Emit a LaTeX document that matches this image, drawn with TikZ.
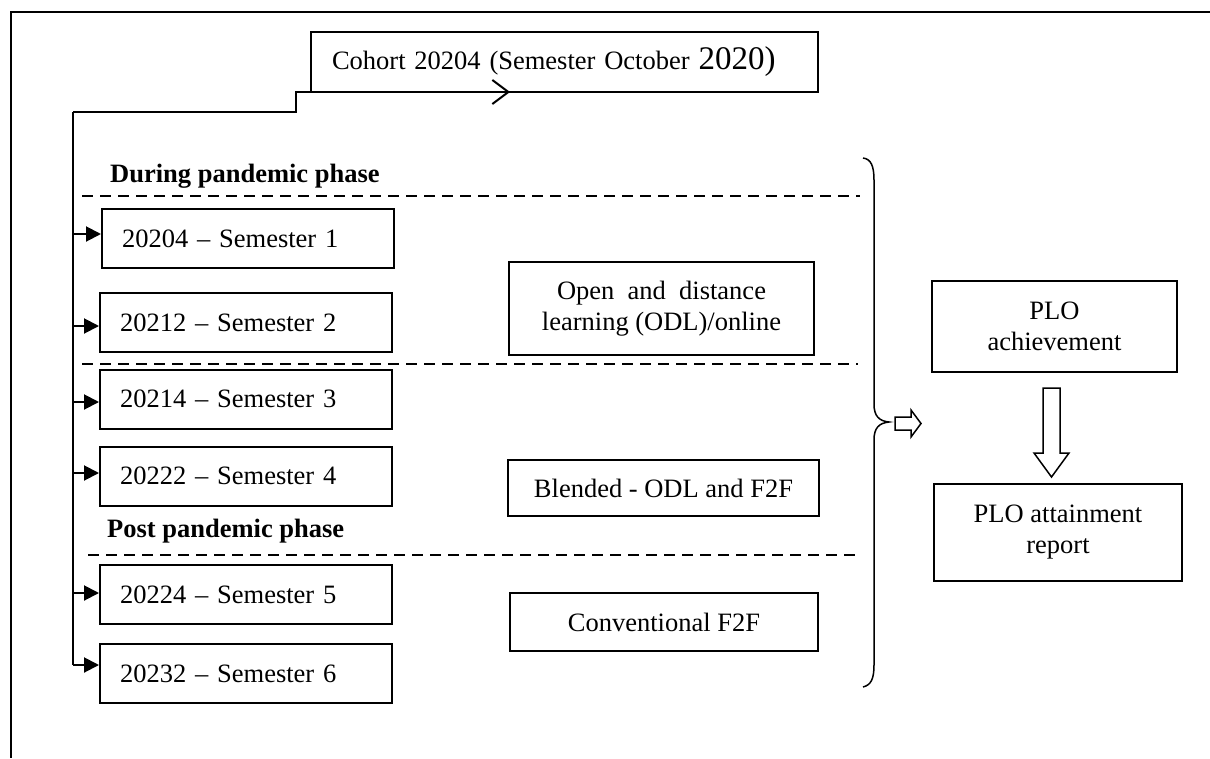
\documentclass[tikz,border=0pt]{standalone}
\usepackage{fontspec}
\setmainfont{Liberation Serif}
\usetikzlibrary{arrows.meta}
\newcommand{\mainsize}{\fontsize{26.5}{31}\selectfont}
\begin{document}
\begin{tikzpicture}[x=1pt,y=-1pt,
  every node/.style={font=\mainsize, inner sep=0pt},
  box/.style={draw, line width=2pt},
  sembox/.style={box, minimum width=292pt, minimum height=59pt, text width=252pt, inner xsep=20pt, align=left},
  midbox/.style={box, align=center},
  phase/.style={font=\mainsize\bfseries, anchor=base west},
  conn/.style={line width=2pt},
  semarrow/.style={line width=2pt, -{Triangle[length=15pt,width=15pt]}},
  dashline/.style={line width=2pt, dash pattern=on 11pt off 7pt},
  blockarrow/.style={line width=1.5pt, fill=white}
]
\useasboundingbox (0,0) rectangle (1210,758);

% page frame
\draw[line width=2pt] (1210,12) -- (11,12) -- (11,758);

% cohort box
\node[box, minimum width=507pt, minimum height=60pt, text width=465pt, inner xsep=21pt, align=left] (cohort) at (564.5,62) {Cohort 20204 (Semester October {\fontsize{33}{33}\selectfont 2020)}};

% phase labels and dashed separators
\node[phase] (during) at (110,182) {During pandemic phase};
\node[phase] (post) at (107,537) {Post pandemic phase};
\draw[dashline] (82,196) -- (860,196);
\draw[dashline] (82,364) -- (858,364);
\draw[dashline] (88,555) -- (862,555);

% semester boxes
\node[sembox] (s1) at (248,238.5) {20204 – Semester 1};
\node[sembox] (s2) at (246,322.5) {20212 – Semester 2};
\node[sembox] (s3) at (246,399) {20214 – Semester 3};
\node[sembox] (s4) at (246,476) {20222 – Semester 4};
\node[sembox] (s5) at (246,594.5) {20224 – Semester 5};
\node[sembox] (s6) at (246,673.5) {20232 – Semester 6};

% mode boxes
\node[midbox, minimum width=305pt, minimum height=93pt] (odl) at (661.5,308.5) {Open\hspace{0.5em}and\hspace{0.5em}distance\\learning (ODL)/online};
\node[midbox, minimum width=311pt, minimum height=56pt] (blend) at (663.5,488) {Blended - ODL and F2F};
\node[midbox, minimum width=308pt, minimum height=58pt] (conv) at (664,622) {Conventional F2F};

% PLO boxes
\node[midbox, minimum width=245pt, minimum height=91pt] (plo1) at (1054.5,326.5) {PLO\\achievement};
\node[midbox, minimum width=248pt, minimum height=97pt] (plo2) at (1058,532.5) {PLO attainment\\report};

% spine and connectors
\coordinate (sp) at (73,112);
\coordinate (a1) at (73,234);
\coordinate (a2) at (73,326);
\coordinate (a3) at (73,402);
\coordinate (a4) at (73,473);
\coordinate (a5) at (73,593);
\coordinate (a6) at (73,665);
\coordinate (stepA) at (296,112);
\coordinate (stepB) at (296,92);
\coordinate (tipC) at (510,92);
\draw[conn, -{Straight Barb[length=16pt,width=24pt,line width=2pt]}] (sp) -- (stepA) -- (stepB) -- (tipC);
\draw[conn] (sp) -- (a6);
\draw[semarrow] (a1) -- (a1 -| s1.west);
\draw[semarrow] (a2) -- (a2 -| s2.west);
\draw[semarrow] (a3) -- (a3 -| s3.west);
\draw[semarrow] (a4) -- (a4 -| s4.west);
\draw[semarrow] (a5) -- (a5 -| s5.west);
\draw[semarrow] (a6) -- (a6 -| s6.west);

% brace
\draw[line width=1.5pt] (863,158) .. controls (871,159) and (874,166) .. (874,180) -- (874,404)
  .. controls (874,416) and (879,421) .. (889,422)
  .. controls (879,423) and (874,428) .. (874,440) -- (874,665)
  .. controls (874,679) and (871,685) .. (863,687);

% small hollow right arrow
\draw[blockarrow] (895,417) -- (911,417) -- (911,410) -- (921,423.5) -- (911,437) -- (911,430) -- (895,430) -- cycle;

% big hollow down arrow
\draw[blockarrow] (1043,388) -- (1060,388) -- (1060,453) -- (1069,453) -- (1051.5,477) -- (1034,453) -- (1043,453) -- cycle;
\end{tikzpicture}
\end{document}
